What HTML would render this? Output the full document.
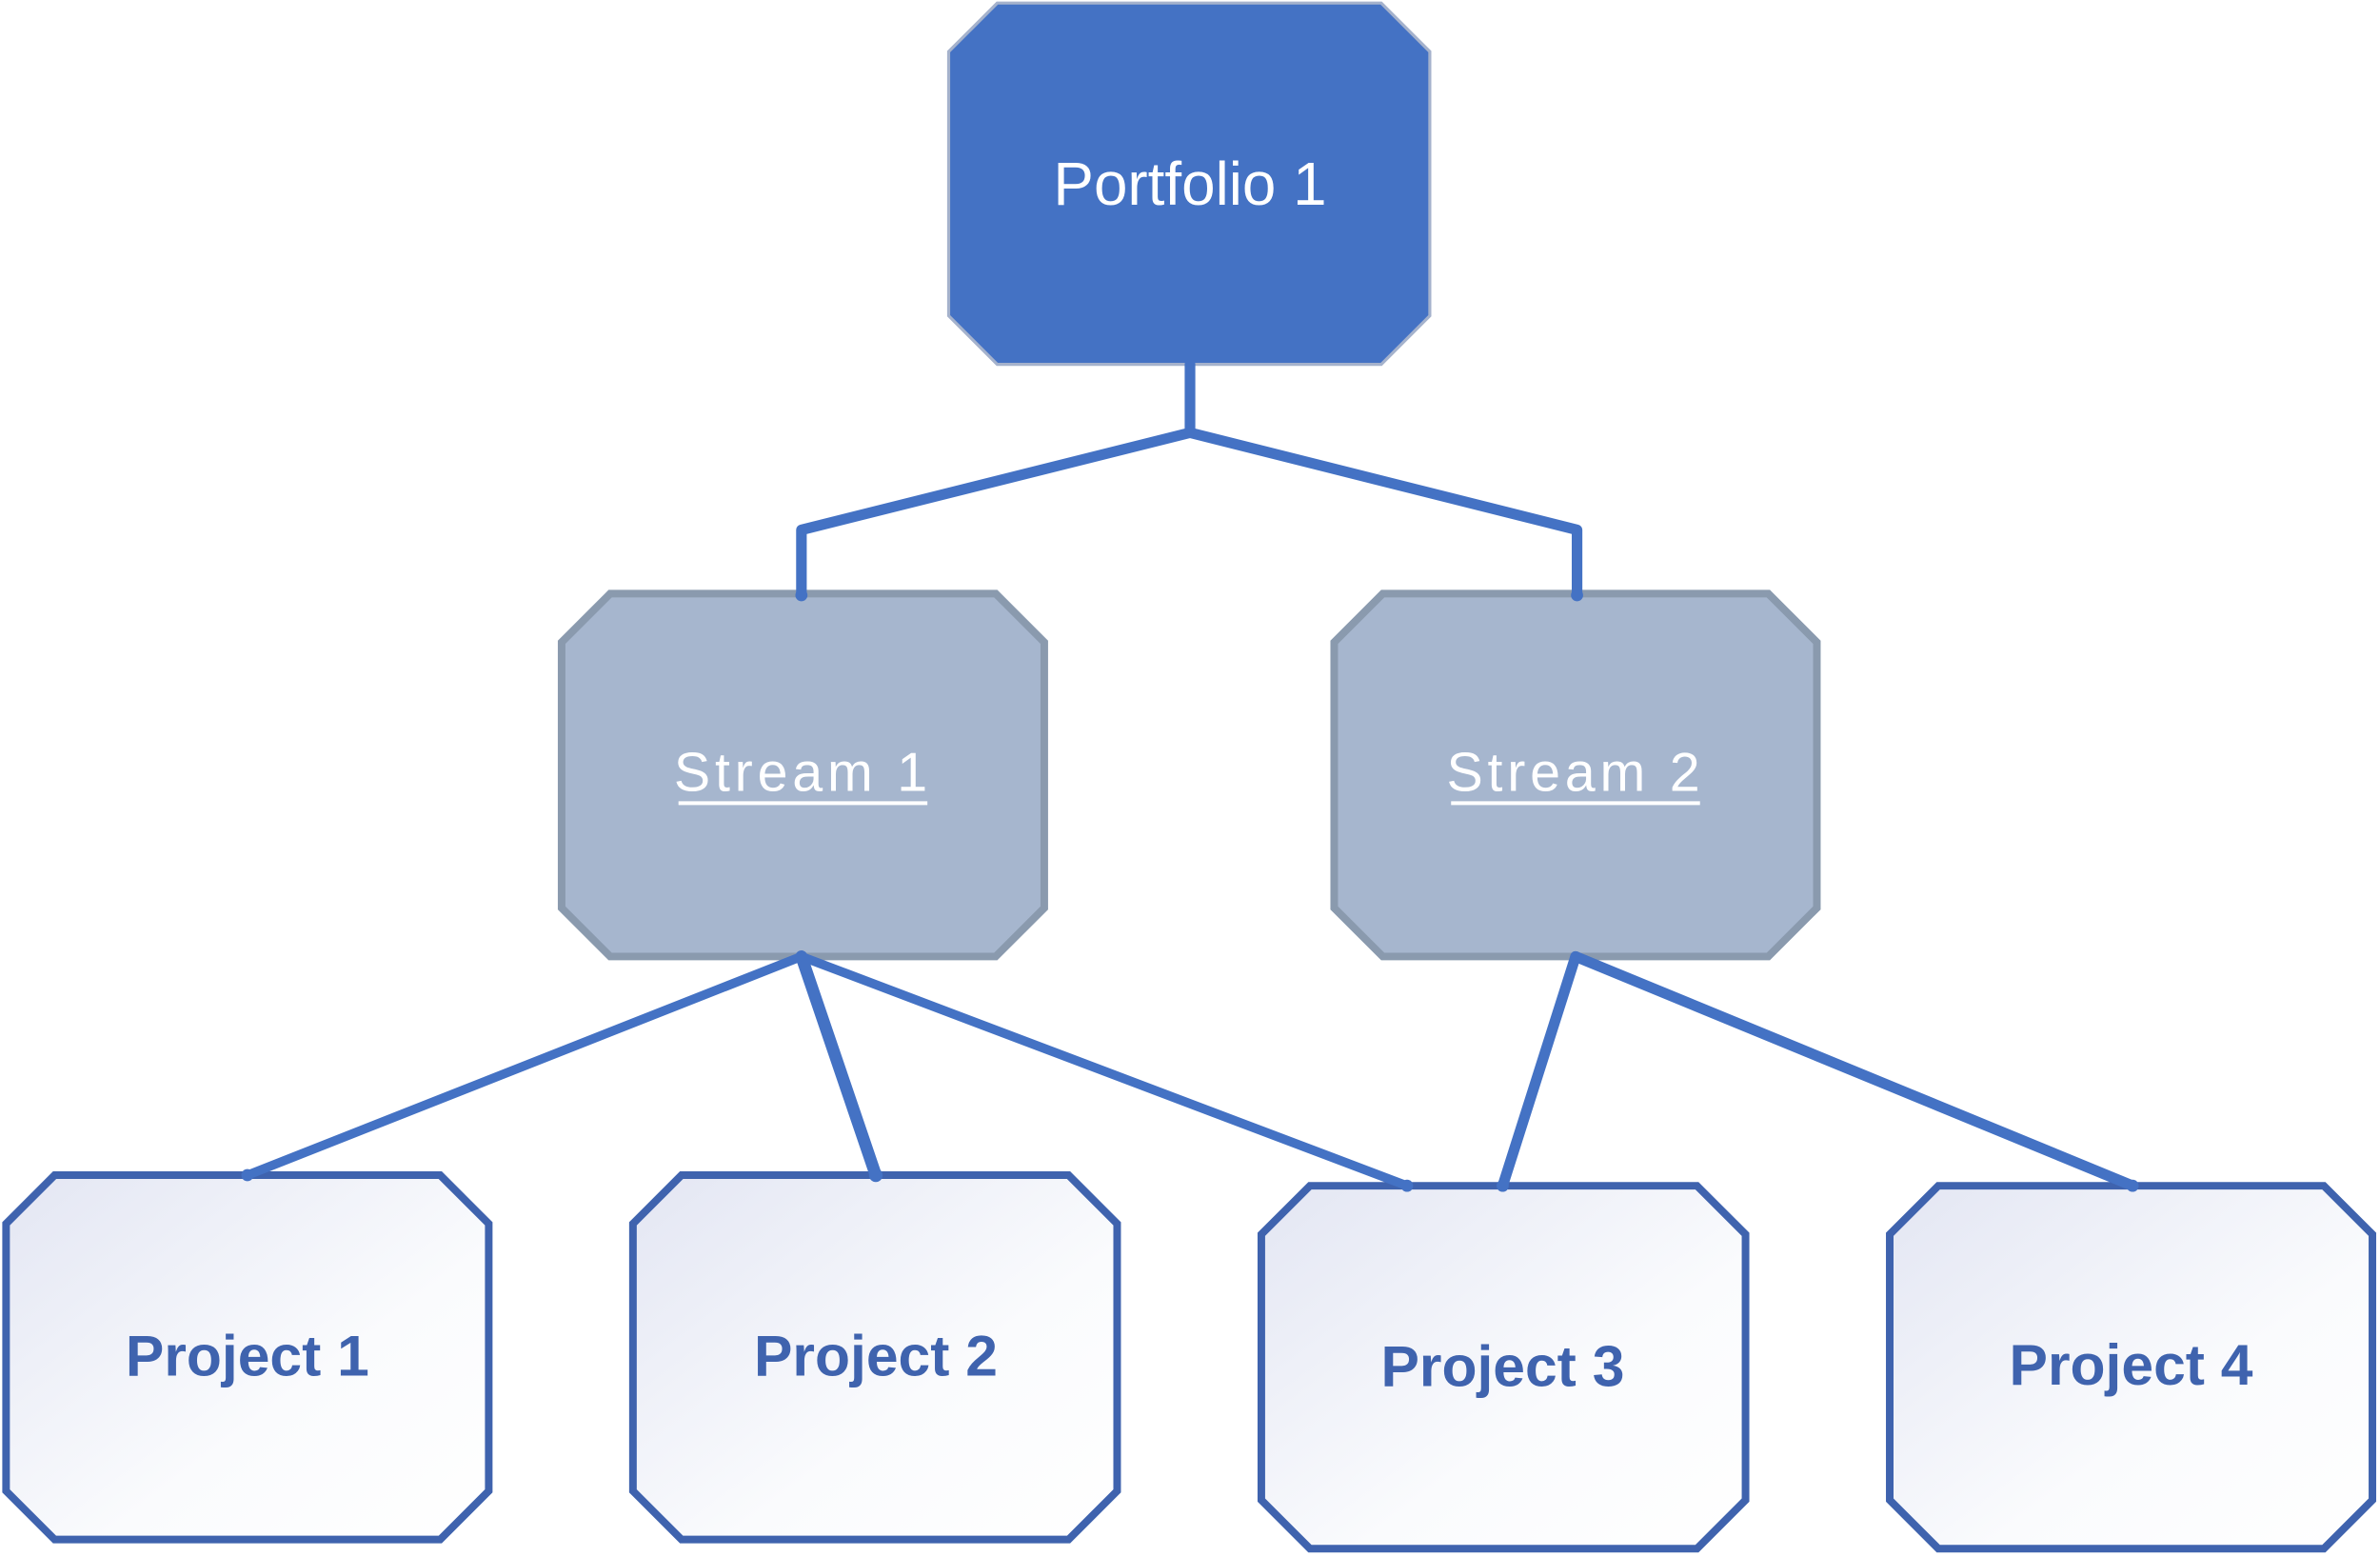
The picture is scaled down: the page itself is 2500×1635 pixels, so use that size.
<!DOCTYPE html>
<html><head><meta charset="utf-8"><style>
html,body{margin:0;padding:0;background:#fff;}
svg{display:block}
text{font-family:"Liberation Sans",sans-serif;}
</style></head><body>
<svg width="2500" height="1635" viewBox="0 0 1568 1025.5" preserveAspectRatio="none" xmlns="http://www.w3.org/2000/svg">
<defs>
<linearGradient id="g" x1="0" y1="0" x2="1" y2="1">
<stop offset="0" stop-color="#E3E6F3"/><stop offset="0.6" stop-color="#FAFBFD"/><stop offset="1" stop-color="#FFFFFF"/>
</linearGradient>
</defs>
<polygon points="657,2 910,2 942,34 942,208 910,240 657,240 625,208 625,34" fill="#4472C4" stroke="#A5B2CC" stroke-width="2"/>
<text x="784" y="135" font-size="40" fill="#fff" text-anchor="middle">Portfolio 1</text>
<polygon points="402,391 656,391 688,423 688,598 656,630 402,630 370,598 370,423" fill="#A6B6CE" stroke="#8A9AAE" stroke-width="5"/>
<polygon points="911,391 1165,391 1197,423 1197,598 1165,630 911,630 879,598 879,423" fill="#A6B6CE" stroke="#8A9AAE" stroke-width="5"/>
<text x="529" y="521" font-size="36" fill="#fff" text-anchor="middle" letter-spacing="3">Stream 1</text>
<line x1="447" y1="529" x2="611" y2="529" stroke="#fff" stroke-width="2.5"/>
<text x="1038" y="521" font-size="36" fill="#fff" text-anchor="middle" letter-spacing="3">Stream 2</text>
<line x1="956" y1="529" x2="1120" y2="529" stroke="#fff" stroke-width="2.5"/>
<g fill="url(#g)" stroke="#3F63AE" stroke-width="5">
<polygon points="36,774 290,774 322,806 322,982 290,1014 36,1014 4,982 4,806"/>
<polygon points="449,774 704,774 736,806 736,982 704,1014 449,1014 417,982 417,806"/>
<polygon points="863,781 1118,781 1150,813 1150,988 1118,1020 863,1020 831,988 831,813"/>
<polygon points="1277,781 1531,781 1563,813 1563,988 1531,1020 1277,1020 1245,988 1245,813"/>
</g>
<g stroke="#4472C4" stroke-width="7" fill="none" stroke-linecap="round" stroke-linejoin="round">
<polyline points="784,240 784,285 528,349 528,392"/>
<polyline points="784,285 1039,349 1039,392"/>
<line x1="528" y1="630" x2="163" y2="774" stroke-width="6"/>
<line x1="528" y1="630" x2="577" y2="774" stroke-width="8"/>
<line x1="528" y1="630" x2="927" y2="781" stroke-width="6"/>
<line x1="1038" y1="630" x2="990" y2="781" stroke-width="7"/>
<line x1="1038" y1="630" x2="1405" y2="781" stroke-width="7"/>
</g>
<g fill="#4472C4">
<circle cx="528" cy="392" r="4"/><circle cx="1039" cy="392" r="4"/>
<circle cx="163" cy="774" r="4"/><circle cx="577" cy="774" r="4.5"/>
<circle cx="927" cy="781" r="4"/><circle cx="990" cy="781" r="4"/><circle cx="1405" cy="781" r="4"/>
</g>
<g font-size="38" font-weight="bold" fill="#3F63AE" text-anchor="middle">
<text x="163" y="906">Project 1</text>
<text x="577" y="906">Project 2</text>
<text x="990" y="913">Project 3</text>
<text x="1404" y="912">Project 4</text>
</g>
</svg>
</body></html>
